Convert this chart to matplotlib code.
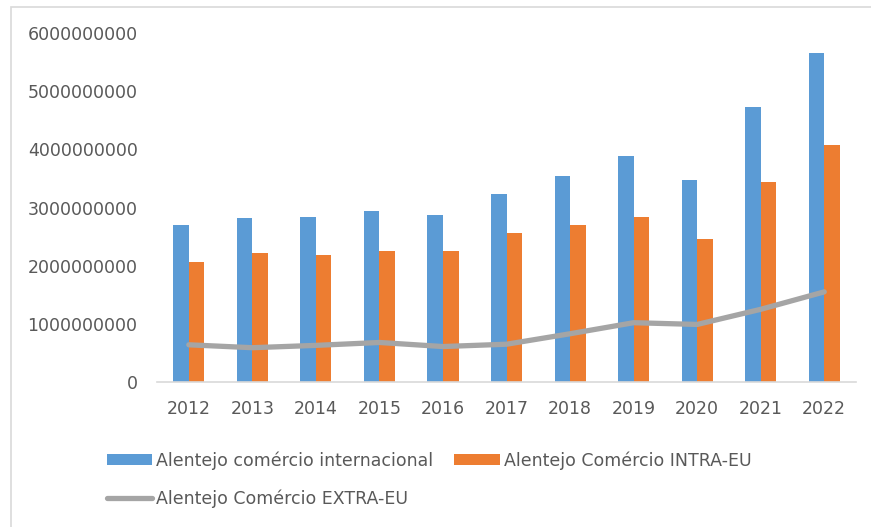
import matplotlib
matplotlib.use("Agg")
import matplotlib.pyplot as plt
from matplotlib.patches import Rectangle
import numpy as np

years = ["2012", "2013", "2014", "2015", "2016", "2017", "2018", "2019", "2020", "2021", "2022"]
internacional = [2.70e9, 2.82e9, 2.84e9, 2.94e9, 2.88e9, 3.23e9, 3.54e9, 3.89e9, 3.48e9, 4.73e9, 5.65e9]
intra_eu = [2.06e9, 2.22e9, 2.18e9, 2.26e9, 2.25e9, 2.56e9, 2.70e9, 2.84e9, 2.46e9, 3.44e9, 4.07e9]
extra_eu = [0.64e9, 0.59e9, 0.63e9, 0.68e9, 0.61e9, 0.65e9, 0.83e9, 1.02e9, 0.99e9, 1.25e9, 1.55e9]
yticks = [0, 1e9, 2e9, 3e9, 4e9, 5e9, 6e9]

plt.rcParams['font.family'] = ['DejaVu Sans']
txt = '#595959'
fs = 12.5

fig = plt.figure(figsize=(8.71, 5.27), dpi=100)
ax = fig.add_axes([0.1803, 0.2751, 0.8025, 0.6622])

x = np.arange(len(years))
w = 0.245
b1 = ax.bar(x - w / 2, internacional, w, color='#5B9BD5', label='Alentejo comércio internacional')
b2 = ax.bar(x + w / 2, intra_eu, w, color='#ED7D31', label='Alentejo Comércio INTRA-EU')
l1, = ax.plot(x, extra_eu, color='#A5A5A5', lw=3.8, solid_capstyle='round',
              solid_joinstyle='round', label='Alentejo Comércio EXTRA-EU')

ax.set_xlim(-0.5, len(years) - 0.5)
ax.set_ylim(0, 6e9)
ax.set_xticks(x)
ax.set_xticklabels(years)
ax.set_yticks(yticks)
ax.set_yticklabels([str(int(v)) for v in yticks])
ax.tick_params(axis='both', length=0, labelsize=fs, colors=txt)
ax.tick_params(axis='y', pad=14)
ax.tick_params(axis='x', pad=13)
for s in ['top', 'right', 'left']:
    ax.spines[s].set_visible(False)
ax.spines['bottom'].set_color('#D9D9D9')
ax.spines['bottom'].set_linewidth(1.2)

leg = fig.legend([b1, l1, b2], [b1.get_label(), l1.get_label(), b2.get_label()],
                 ncol=2, loc='upper left', bbox_to_anchor=(107 / 871, 1 - 451 / 527),
                 frameon=False, fontsize=fs, handlelength=2.6, handleheight=0.65,
                 handletextpad=0.25, columnspacing=1.2, labelspacing=1.15, borderpad=0,
                 borderaxespad=0)
for t in leg.get_texts():
    t.set_color(txt)

# chart border
fig.patches.append(Rectangle((11 / 871, -0.1), 1.2, 1 - 7 / 527 + 0.1, transform=fig.transFigure,
                             fill=False, edgecolor='#D9D9D9', lw=1.2))

plt.savefig('out.png', dpi=100)
